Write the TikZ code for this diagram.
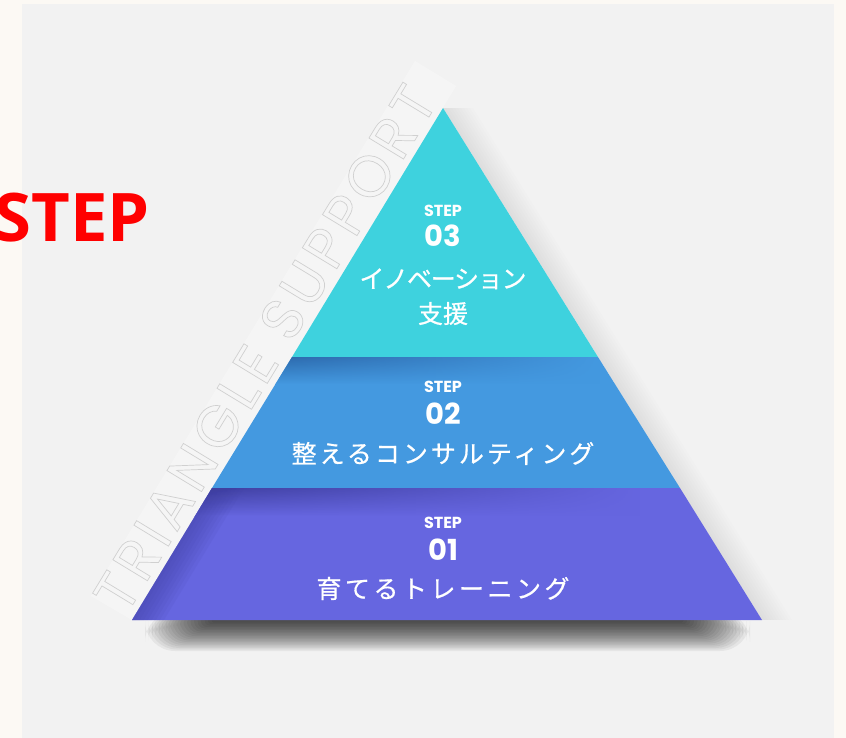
\documentclass[tikz,border=0pt]{standalone}
\usepackage{fontspec}
\newfontfamily\jpfont{Noto Sans CJK JP}[FakeBold=0.6]
\newfontfamily\popfont{Poppins}
\newfontfamily\headfont{Open Sans}
\usetikzlibrary{fadings}

\definecolor{pagebg}{HTML}{FCF9F4}
\definecolor{panel}{HTML}{F2F2F2}
\definecolor{tier3}{HTML}{3ED2DE}
\definecolor{tier2}{HTML}{4499E0}
\definecolor{tier1}{HTML}{6666E0}
\definecolor{tier2dark}{HTML}{2C69AC}
\definecolor{tier1dark}{HTML}{3F3FA0}
\definecolor{outlinegray}{HTML}{D0D0D0}

\tikzfading[name=fade right, left color=transparent!0, right color=transparent!100]

\begin{document}
\begin{tikzpicture}[x=1pt, y=-1pt,
    steplabel/.style={anchor=base, inner sep=0pt, text=white, font=\popfont\bfseries\fontsize{16}{16}\selectfont},
    stepnum/.style={anchor=base, inner sep=0pt, text=white, font=\popfont\bfseries\fontsize{29}{29}\selectfont},
    tiertext/.style={anchor=base, inner sep=0pt, text=white, font=\jpfont\fontsize{25}{25}\selectfont},
    bandshade/.style={opacity=0.008}
  ]
    % frame
    \fill[pagebg] (0,0) rectangle (846,738);
    \fill[panel] (22,4) rectangle (834,738);
    \useasboundingbox (0,0) rectangle (846,738);

    \coordinate (apex) at (443,108);
    \coordinate (l1) at (292,357);
    \coordinate (r1) at (598,357);
    \coordinate (l2) at (212,488);
    \coordinate (r2) at (680,488);
    \coordinate (bl) at (132,620);
    \coordinate (br) at (762,620);

    % light strip and outlined caption along the left edge
    \fill[white, opacity=0.3] (bl) -- (456,86) -- (415,61) -- (91,596) -- cycle;
    \node[rotate=58.73, anchor=base west, inner sep=0pt, text=outlinegray,
          font=\popfont\fontsize{58}{58}\selectfont\addfontfeatures{LetterSpace=9}]
      (caption) at (126,616)
      {\special{pdf:literal direct 1 Tr 0.7 w}TRIANGLE SUPPORT\special{pdf:literal direct 0 Tr}};

    % shadows
    \foreach \i in {1,...,20}
      \fill[black, opacity=0.05, rounded corners=1.5*\i] (215-3.5*\i,612) rectangle (680+3.5*\i,621+1.5*\i);
    \foreach \i in {1,...,10}
      \fill[black, bandshade] (apex) -- (br) -- ([xshift=\i*3pt]br) -- ([xshift=\i*3pt]apex) -- cycle;

    % layers
    \fill[tier3] (apex) -- (r1) -- (l1) -- cycle;
    \fill[tier2] (l1) -- (r1) -- (r2) -- (l2) -- cycle;
    \fill[tier1] (l2) -- (r2) -- (br) -- (bl) -- cycle;

    \begin{scope}
      \clip (l1) -- (r1) -- (r2) -- (l2) -- cycle;
      \shade[top color=tier2dark, bottom color=tier2, path fading=fade right] (270,357) rectangle (600,384);
    \end{scope}
    \begin{scope}
      \clip (l2) -- (r2) -- (br) -- (bl) -- cycle;
      \shade[top color=tier1dark, bottom color=tier1, path fading=fade right] (190,488) rectangle (640,516);
      \foreach \i in {1,...,8}
        \fill[tier1dark, opacity=0.08] (l2) -- (bl) -- ([xshift=\i*4pt]bl) -- ([xshift=\i*4pt]l2) -- cycle;
    \end{scope}

    % texts
    \node[steplabel] (step3) at (443,217) {STEP};
    \node[stepnum] (num3) at (443,247) {03};
    \node[tiertext, font=\jpfont\fontsize{25}{25}\selectfont\addfontfeatures{LetterSpace=-5}] (name3a) at (443,288) {イノベーション};
    \node[tiertext] (name3b) at (443,323) {支援};

    \node[steplabel] (step2) at (443,392) {STEP};
    \node[stepnum] (num2) at (443,424) {02};
    \node[tiertext, font=\jpfont\fontsize{25}{25}\selectfont\addfontfeatures{LetterSpace=12}] (name2) at (443,463) {整えるコンサルティング};

    \node[steplabel] (step1) at (443,528) {STEP};
    \node[stepnum] (num1) at (443,560) {01};
    \node[tiertext, font=\jpfont\fontsize{25}{25}\selectfont\addfontfeatures{LetterSpace=14}] (name1) at (443,598) {育てるトレーニング};

    % heading
    \node[anchor=base east, inner sep=0pt, text=red, font=\headfont\bfseries\fontsize{67}{67}\selectfont] (title) at (150,241) {STEP};
  \end{tikzpicture}
\end{document}
